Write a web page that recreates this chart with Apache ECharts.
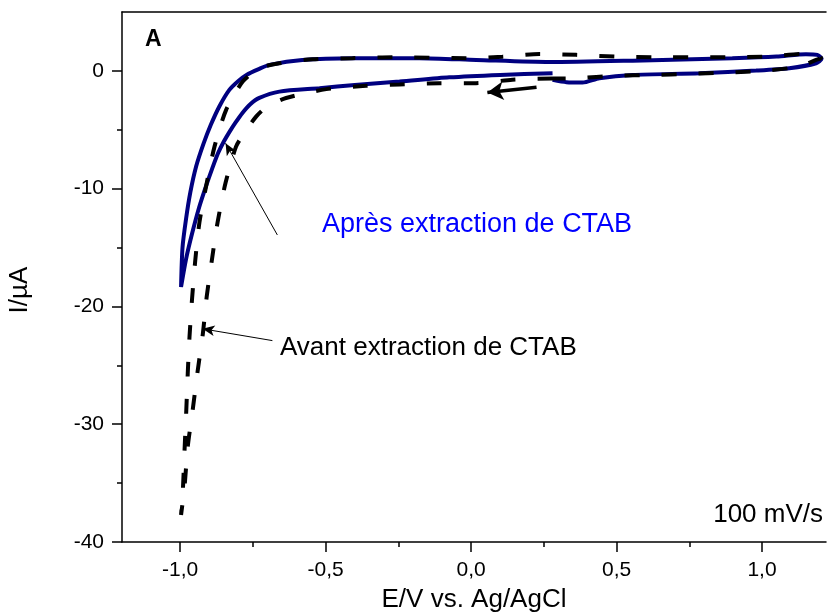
<!DOCTYPE html>
<html>
<head>
<meta charset="utf-8">
<script src="https://cdn.jsdelivr.net/npm/echarts@6/dist/echarts.min.js"></script>
<style>
html,body{margin:0;padding:0;background:#fff;}
#chart{width:827px;height:612px;}
</style>
</head>
<body>
<div id="chart"></div>
<script>
// ---- Data ----
// "Après extraction de CTAB" (solid navy)
const apresE = [0.280, 0.100, -0.075, -0.246, -0.400, -0.521, -0.659, -0.728, -0.760, -0.786, -0.810, -0.831, -0.850, -0.870, -0.890, -0.910, -0.935, -0.960, -0.980, -0.997,
  -0.992, -0.980, -0.965, -0.945, -0.920, -0.895, -0.865, -0.831, -0.800, -0.772, -0.730, -0.693, -0.580, -0.408, -0.178, 0.018, 0.269, 0.555, 0.898, 1.050, 1.151, 1.190, 1.205,
  1.186, 1.094, 0.980, 0.785, 0.555, 0.441, 0.383, 0.328, 0.280];
const apresI = [-0.20, -0.34, -0.55, -0.91, -1.20, -1.47, -1.76, -2.29, -2.85, -3.57, -4.40, -5.20, -6.00, -7.00, -8.30, -9.70, -11.6, -13.9, -16.0, -18.35,
  -15.0, -12.6, -10.3, -8.10, -6.20, -4.60, -3.00, -1.61, -0.85, -0.34, 0.15, 0.51, 0.93, 1.08, 1.08, 0.93, 0.75, 0.87, 1.08, 1.22, 1.42, 1.36, 1.05,
  0.65, 0.23, 0.03, -0.20, -0.34, -0.62, -0.99, -0.96, -0.76];
// "Avant extraction de CTAB" (dashed black)
const avantE = [0.280, 0.142, 0.017, -0.109, -0.246, -0.361, -0.498, -0.636, -0.700, -0.739, -0.780, -0.808, -0.844, -0.871, -0.891, -0.909, -0.922, -0.940, -0.957, -0.974, -0.985, -0.997,
  -0.991, -0.985, -0.979, -0.974, -0.968, -0.959, -0.948, -0.934, -0.911, -0.882, -0.842, -0.785, -0.727, -0.659, -0.545, -0.408, -0.270, -0.016, 0.108, 0.235, 0.361, 0.499, 0.623, 0.877, 1.015, 1.139, 1.190, 1.203,
  1.186, 1.128, 1.015, 0.877, 0.750, 0.623, 0.499, 0.361, 0.280];
const avantI = [-0.65, -0.75, -1.04, -1.04, -1.15, -1.27, -1.55, -2.30, -3.00, -3.88, -5.30, -6.43, -9.50, -12.8, -16.05, -19.2, -22.3, -25.5, -28.8, -31.9, -35.3, -37.7,
  -35.7, -32.2, -28.8, -25.7, -22.6, -19.3, -16.05, -12.9, -9.8, -6.43, -3.31, -0.91, 0.23, 0.65, 0.99, 1.08, 1.16, 1.08, 1.21, 1.44, 1.36, 1.21, 1.16, 1.16, 1.21, 1.44, 1.40, 1.10,
  0.93, 0.37, 0.03, -0.14, -0.25, -0.34, -0.42, -0.62, -0.65];

const xMajorTicks = [-1.0, -0.5, 0.0, 0.5, 1.0];
const xMinorTicks = [-0.75, -0.25, 0.25, 0.75];
const yMajorTicks = [-40, -30, -20, -10, 0];
const yMinorTicks = [-35, -25, -15, -5];

// annotation arrows in data coordinates: [tailE, tailI, tipE, tipI]
const arrowApres = [-0.666, -13.93, -0.844, -6.14];
const arrowAvant = [-0.683, -22.9, -0.923, -21.9];
const arrowScan = [0.225, -1.38, 0.056, -1.84];

const labelApres = 'Après extraction de CTAB';
const labelAvant = 'Avant extraction de CTAB';
const labelRate = '100 mV/s';
const labelPanel = 'A';
const xTitle = 'E/V vs. Ag/AgCl';
const yTitle = 'I/µA';

// ---- Chart ----
const FONT = '"Liberation Sans", Arial, sans-serif';
const X_MIN = -1.2, X_MAX = 1.22, Y_MIN = -40, Y_MAX = 5;
const toPairs = (xs, ys) => xs.map((x, i) => [x, ys[i]]);
const fmt = v => (Math.round(v * 10) / 10).toFixed(1).replace('.', ',');

const chart = echarts.init(document.getElementById('chart'), null, {renderer: 'canvas'});

const baseX = {type: 'value', min: X_MIN, max: X_MAX, splitLine: {show: false}};
const baseY = {type: 'value', min: Y_MIN, max: Y_MAX, splitLine: {show: false}};
const lineCol = '#000';

chart.setOption({
  animation: false,
  backgroundColor: '#fff',
  grid: {left: 122, right: 1, top: 12, bottom: 70, containLabel: false, outerBoundsMode: 'none'},
  xAxis: [
    Object.assign({}, baseX, {
      position: 'bottom',
      name: xTitle, nameLocation: 'middle', nameGap: 45,
      nameTextStyle: {fontFamily: FONT, fontSize: 26, color: '#000'},
      axisLine: {show: true, onZero: false, lineStyle: {color: lineCol, width: 1.5}},
      axisTick: {show: true, inside: false, length: 10, lineStyle: {color: lineCol, width: 1.5}, customValues: xMajorTicks},
      axisLabel: {show: true, margin: 18, fontFamily: FONT, fontSize: 21, color: '#000', customValues: xMajorTicks, formatter: fmt}
    }),
    Object.assign({}, baseX, {
      position: 'bottom',
      axisLine: {show: false, onZero: false},
      axisTick: {show: true, inside: false, length: 5, lineStyle: {color: lineCol, width: 1.5}, customValues: xMinorTicks},
      axisLabel: {show: false}
    }),
    Object.assign({}, baseX, {
      position: 'top',
      axisLine: {show: true, onZero: false, lineStyle: {color: lineCol, width: 1.5}},
      axisTick: {show: false},
      axisLabel: {show: false}
    })
  ],
  yAxis: [
    Object.assign({}, baseY, {
      position: 'left',
      axisLine: {show: true, onZero: false, lineStyle: {color: lineCol, width: 1.5}},
      axisTick: {show: true, inside: false, length: 10, lineStyle: {color: lineCol, width: 1.5}, customValues: yMajorTicks},
      axisLabel: {show: true, margin: 18, fontFamily: FONT, fontSize: 21, color: '#000', customValues: yMajorTicks}
    }),
    Object.assign({}, baseY, {
      position: 'left',
      axisLine: {show: false, onZero: false},
      axisTick: {show: true, inside: false, length: 5, lineStyle: {color: lineCol, width: 1.5}, customValues: yMinorTicks},
      axisLabel: {show: false}
    })
  ],
  series: [
    {
      name: labelApres, type: 'line', xAxisIndex: 0, yAxisIndex: 0,
      data: toPairs(apresE, apresI), showSymbol: false, symbol: 'none', smooth: 0.25,
      lineStyle: {color: '#000080', width: 4}, z: 2
    },
    {
      name: labelAvant, type: 'line', xAxisIndex: 0, yAxisIndex: 0,
      data: toPairs(avantE, avantI), showSymbol: false, symbol: 'none', smooth: 0.25,
      lineStyle: {color: '#000', width: 4, type: [15, 22], cap: 'butt'}, z: 3,
      markLine: {
        silent: true, animation: false,
        symbol: ['none', 'arrow'], symbolSize: [8, 12],
        label: {show: false},
        lineStyle: {color: '#000', width: 1, type: 'solid'},
        data: [
          [{coord: [arrowApres[0], arrowApres[1]]}, {coord: [arrowApres[2], arrowApres[3]]}],
          [{coord: [arrowAvant[0], arrowAvant[1]]}, {coord: [arrowAvant[2], arrowAvant[3]]}],
          [{coord: [arrowScan[0], arrowScan[1]], lineStyle: {width: 3.5}, symbolSize: [14, 16]}, {coord: [arrowScan[2], arrowScan[3]], symbolSize: [14, 16]}]
        ]
      }
    }
  ],
  graphic: [
    {type: 'text', x: 20, y: 290, rotation: Math.PI / 2, style: {text: yTitle, font: '26px ' + FONT, fill: '#000', align: 'center', verticalAlign: 'middle'}},
    {type: 'text', x: 145, y: 40, style: {text: labelPanel, font: 'bold 23px ' + FONT, fill: '#000', align: 'left', verticalAlign: 'middle'}},
    {type: 'text', x: 322, y: 225, style: {text: labelApres, font: '27px ' + FONT, fill: '#0000ff', align: 'left', verticalAlign: 'middle'}},
    {type: 'text', x: 280, y: 348, style: {text: labelAvant, font: '26px ' + FONT, fill: '#000', align: 'left', verticalAlign: 'middle'}},
    {type: 'text', x: 823, y: 515, style: {text: labelRate, font: '26px ' + FONT, fill: '#000', align: 'right', verticalAlign: 'middle'}}
  ]
});
</script>
</body>
</html>
